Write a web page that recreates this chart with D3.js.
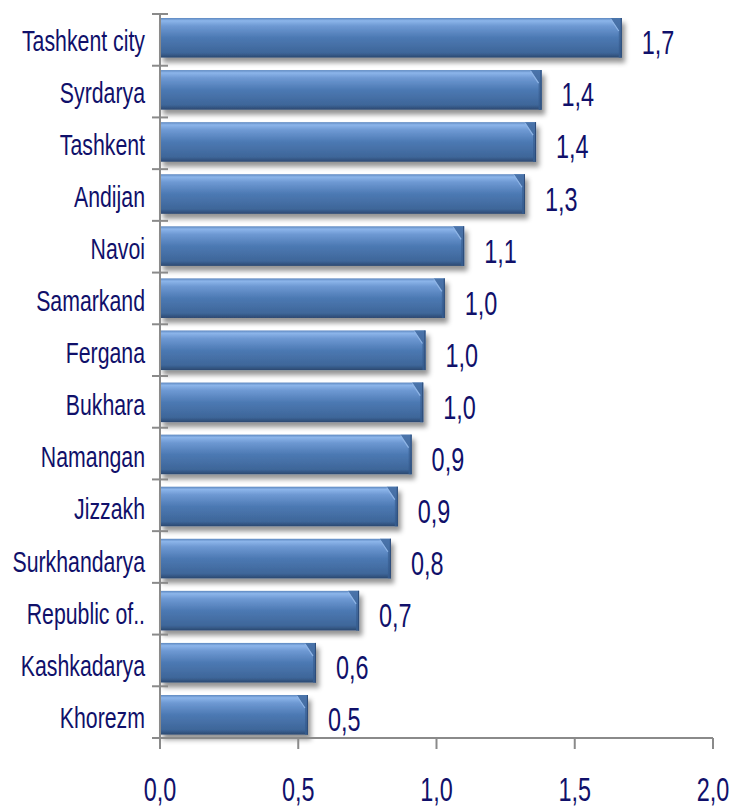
<!DOCTYPE html>
<html>
<head>
<meta charset="utf-8">
<script src="https://cdn.jsdelivr.net/npm/d3@7"></script>
<style>
	body { margin: 0; background: #fff; }
	text { font-family: "Liberation Sans", Arial, sans-serif; fill: #10106a; }
</style>
</head>
<body>
<div id="barChart"></div>
<script>
const regions = ["Tashkent city", "Syrdarya", "Tashkent", "Andijan", "Navoi", "Samarkand", "Fergana", "Bukhara", "Namangan", "Jizzakh", "Surkhandarya", "Republic of..", "Kashkadarya", "Khorezm"];
const values = [1.67, 1.38, 1.36, 1.32, 1.1, 1.03, 0.96, 0.952, 0.91, 0.86, 0.835, 0.72, 0.564, 0.535];
const xTicks = [0, 0.5, 1, 1.5, 2];

const chartWidth = 740;
const chartHeight = 807;
const axisLeft = 160;
const axisRight = 713;
const plotTop = 14;
const plotBottom = 738;
const bevel = 11;
const squeeze = 0.71;

let gSVGarea = d3
	.select("#barChart")
	.append("svg")
	.attr("width", chartWidth)
	.attr("height", chartHeight);

const defs = gSVGarea.append("defs");
const grad = defs.append("linearGradient").attr("id", "barGrad").attr("x1", 0).attr("y1", 0).attr("x2", 0).attr("y2", 1);
[
	["0%", "#5d88c0"],
	["7%", "#8cb5ea"],
	["20%", "#6e99d3"],
	["50%", "#4c79b3"],
	["88%", "#3e6699"],
	["100%", "#2b4870"]
].forEach((s) => grad.append("stop").attr("offset", s[0]).attr("stop-color", s[1]));

const endGrad = defs.append("linearGradient").attr("id", "endGrad").attr("x1", 0).attr("y1", 0).attr("x2", 0).attr("y2", 1);
endGrad.append("stop").attr("offset", "0%").attr("stop-color", "#4a74ab");
endGrad.append("stop").attr("offset", "100%").attr("stop-color", "#345a8c");

const shadow = defs.append("filter").attr("id", "shadow").attr("x", "-5%").attr("y", "-20%").attr("width", "115%").attr("height", "160%");
shadow.append("feDropShadow").attr("dx", 3).attr("dy", 5).attr("stdDeviation", 2.6).attr("flood-color", "#000").attr("flood-opacity", 0.42);

const x = d3.scaleLinear().domain([0, 2]).range([axisLeft, axisRight]);
// bars sit on a slightly wider pitch than the tick bands (as in the original)
const y = d3.scaleBand().domain(regions).range([18, 734.6]).paddingInner(0.24).paddingOuter(0);
const tickStep = (plotBottom - plotTop) / regions.length;

// bars
const bars = gSVGarea
	.selectAll(".bar")
	.data(regions)
	.enter()
	.append("g")
	.attr("class", "bar")
	.attr("filter", "url(#shadow)");

bars.append("rect")
	.attr("x", x(0))
	.attr("y", (d) => y(d))
	.attr("width", (d, i) => x(values[i]) - x(0))
	.attr("height", y.bandwidth())
	.attr("fill", "url(#barGrad)");

bars.append("polygon")
	.attr("points", (d, i) => {
		const xe = x(values[i]);
		const y0 = y(d);
		const h = y.bandwidth();
		return [[xe - bevel, y0], [xe, y0], [xe, y0 + h], [xe - 3, y0 + h], [xe - 3, y0 + 13]].map((p) => p.join(",")).join(" ");
	})
	.attr("fill", "url(#endGrad)");

bars.append("line")
	.attr("x1", (d, i) => x(values[i]) - bevel)
	.attr("y1", (d) => y(d) + 1)
	.attr("x2", (d, i) => x(values[i]) - 3)
	.attr("y2", (d) => y(d) + 13)
	.attr("stroke", "#8fb5e6")
	.attr("stroke-width", 1.2);

bars.append("line")
	.attr("x1", (d, i) => x(values[i]) - 0.5)
	.attr("y1", (d) => y(d))
	.attr("x2", (d, i) => x(values[i]) - 0.5)
	.attr("y2", (d) => y(d) + y.bandwidth())
	.attr("stroke", "#2d4c78")
	.attr("stroke-width", 1);

// axes
const axisG = gSVGarea.append("g").attr("stroke", "#8a8a8a").attr("stroke-width", 2);
axisG.append("line").attr("x1", axisLeft).attr("x2", axisLeft).attr("y1", plotTop).attr("y2", plotBottom);
axisG.append("line").attr("x1", axisLeft - 8).attr("x2", axisRight).attr("y1", plotBottom).attr("y2", plotBottom);
axisG.selectAll(".ytick")
	.data(d3.range(regions.length))
	.enter()
	.append("line")
	.attr("x1", axisLeft - 8)
	.attr("x2", axisLeft + 8)
	.attr("y1", (i) => plotTop + i * tickStep)
	.attr("y2", (i) => plotTop + i * tickStep);
axisG.selectAll(".xtick")
	.data(xTicks)
	.enter()
	.append("line")
	.attr("x1", (d) => x(d))
	.attr("x2", (d) => x(d))
	.attr("y1", plotBottom)
	.attr("y2", plotBottom + 11);

const fmt = (v) => v.toFixed(1).replace(".", ",");

// category labels
gSVGarea.selectAll(".catLabel")
	.data(regions)
	.enter()
	.append("text")
	.attr("class", "catLabel")
	.attr("text-anchor", "end")
	.attr("font-size", 30)
	.attr("transform", (d) => `translate(${axisLeft - 15}, ${y(d) + y.bandwidth() / 2 + 13}) scale(${squeeze}, 1)`)
	.text((d) => d);

// value labels
gSVGarea.selectAll(".valLabel")
	.data(regions)
	.enter()
	.append("text")
	.attr("class", "valLabel")
	.attr("font-size", 33)
	.attr("transform", (d, i) => `translate(${x(values[i]) + 20}, ${y(d) + y.bandwidth() / 2 + 16.5}) scale(${squeeze}, 1)`)
	.text((d, i) => fmt(values[i]));

// x tick labels
gSVGarea.selectAll(".xLabel")
	.data(xTicks)
	.enter()
	.append("text")
	.attr("class", "xLabel")
	.attr("text-anchor", "middle")
	.attr("font-size", 33)
	.attr("transform", (d) => `translate(${x(d)}, 801) scale(${squeeze}, 1)`)
	.text((d) => fmt(d));
</script>
</body>
</html>
